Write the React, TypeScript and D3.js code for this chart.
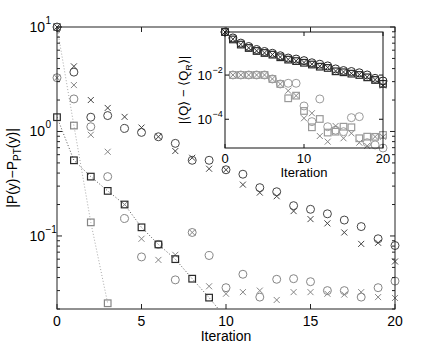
import React from "react";
import * as d3 from "d3";

// iteration numbers
const iteration = [0, 1, 2, 3, 4, 5, 6, 7, 8, 9, 10, 11, 12, 13, 14, 15, 16, 17, 18, 19, 20];

// main panel, |P(y) - P_PT(y)|
const slowCircle = [10, 3.7, 1.37, 1.42, 1.07, 0.98, 0.89, 0.77, 0.53, 0.53, 0.43, 0.39, 0.29, 0.265, 0.195, 0.18, 0.163, 0.142, 0.123, 0.094, 0.081];
const slowCross = [10, 4.2, 2.0, 1.68, 1.38, 1.09, 0.89, 0.65, 0.56, 0.44, 0.43, 0.31, 0.26, 0.24, 0.173, 0.145, 0.132, 0.108, 0.084, 0.086, 0.057];
const fastCircle = [3.27, 2.05, 1.11, 0.37, 0.147, 0.063, 0.083, 0.038, 0.108, 0.065, 0.032, 0.043, 0.026, 0.0385, 0.039, 0.0365, 0.03, 0.03, 0.026, 0.032, 0.037];
const fastCross = [3.27, 2.78, 0.93, 0.64, 0.2, 0.094, 0.059, 0.066, 0.108, 0.033, 0.028, 0.029, 0.03, 0.0244, 0.029, 0.029, 0.028, 0.0275, 0.029, 0.026, 0.0255];
const squareDark = [1.37, 0.53, 0.37, 0.27, 0.2, 0.121, 0.083, 0.06, 0.039, 0.0257, 0.0163];
const squareGray = [10, 1.14, 0.135, 0.0227];

// inset, |<Q> - <Q_R>|
const insetDarkCircle = [0.89, 0.48, 0.28, 0.196, 0.144, 0.117, 0.097, 0.075, 0.059, 0.053, 0.045, 0.036, 0.031, 0.026, 0.019, 0.016, 0.0145, 0.0127, 0.0101, 0.0071, 0.0054];
const insetDarkSquare = [0.89, 0.41, 0.24, 0.168, 0.123, 0.1, 0.084, 0.064, 0.05, 0.043, 0.036, 0.03, 0.024, 0.021, 0.0148, 0.0134, 0.0116, 0.0101, 0.0079, 0.006, 0.004];
const insetDarkCross = [0.89, 0.42, 0.245, 0.17, 0.125, 0.101, 0.085, 0.065, 0.051, 0.044, 0.037, 0.031, 0.025, 0.022, 0.0152, 0.0138, 0.012, 0.0105, 0.0082, 0.0062, 0.0034];
const insetGrayCircle = [0.89, 0.0101, 0.0101, 0.0101, 0.0101, 0.0101, 0.00665, 0.00395, 0.00425, 0.00425, 4.0e-4, 7.8e-5, 8.3e-4, 4.6e-5, 3.2e-5, 2.74e-5, 1.18e-4, 1.31e-4, 8.7e-6, 6.9e-6, 5.0e-6];
const insetGrayCross = [0.89, 0.0101, 0.0101, 0.0101, 0.0101, 0.0101, 0.00665, 0.00395, 0.00196, 0.00117, 1.11e-4, 1.87e-4, 1.75e-5, 9.7e-6, 4.97e-5, 1.38e-5, 2.32e-5, 8.7e-6, 6.2e-6, 1.63e-5, 1.6e-5];
const insetGraySquare = [0.89, 0.0101, 0.0101, 0.0101, 0.0101, 0.0101, 0.00665, 0.00395, 8.9e-4, 1.17e-3, 2.37e-4, 4.33e-5, 1.03e-4, 2.5e-5, 2.74e-5, 4.61e-5, 4.33e-5, 1.38e-5, 1.63e-5, 1.6e-5, 1.95e-5];

// tick labels
const mainXTicks = [0, 5, 10, 15, 20];
const mainYTicks = [0.1, 1, 10];
const mainYExp = ["\u22121", "0", "1"];
const insetXTicks = [0, 10, 20];
const insetYTicks = [1e-2, 1e-4];
const insetYExp = ["\u22122", "\u22124"];

const FONT = "'Liberation Sans', Arial, Helvetica, sans-serif";
const DARK = "#2a2a2a";
const GRAY = "#858585";
const LIGHT = "#9a9a9a";

function Circle({x, y, c}) {
    return <circle cx={x} cy={y} r={4} fill="none" stroke={c} strokeWidth={1}/>;
}

function Cross({x, y, c}) {
    const s = 3;
    return <path d={`M${x - s},${y - s}L${x + s},${y + s}M${x - s},${y + s}L${x + s},${y - s}`} stroke={c} strokeWidth={1} fill="none"/>;
}

function Square({x, y, c}) {
    const s = 3.3;
    return <rect x={x - s} y={y - s} width={2 * s} height={2 * s} fill="none" stroke={c} strokeWidth={1.2}/>;
}

function Markers({values, kind, color, x, y}) {
    const [lo, hi] = y.domain();
    const M = kind === "o" ? Circle : kind === "x" ? Cross : Square;
    return <g>
        {values.map((v, i) => (v >= lo * 0.999 && v <= hi * 1.001)
            ? <M key={i} x={x(iteration[i])} y={y(v)} c={color}/> : null)}
    </g>;
}

export default function App() {
    const width = 436;
    const height = 349;

    // main axes
    const x = d3.scaleLinear().domain([0, 20]).range([57, 395]);
    const y = d3.scaleLog().domain([0.02, 10]).range([309, 27]);

    // inset axes
    const ix = d3.scaleLinear().domain([0, 20]).range([225, 383]);
    const iy = d3.scaleLog().domain([5e-6, 0.89]).range([148, 32]);

    const line = d3.line<number>()
        .x((d, i) => x(iteration[i]))
        .y(d => y(d));

    const minor = y.ticks().filter(t => !mainYTicks.includes(t));

    const [x0, x1] = x.range();
    const [yb, yt] = y.range();

    return (
        <svg width={width} height={height} style={{position: "absolute", left: 0, top: 0, background: "#fff"}}
             fontFamily={FONT}>
            <defs>
                <clipPath id="main-clip">
                    <rect x={x0} y={yt} width={x1 - x0} height={yb - yt}/>
                </clipPath>
            </defs>

            {/* dotted guide lines through the squares */}
            <g clipPath="url(#main-clip)" fill="none">
                <path d={line(squareGray)} stroke="#a8a8a8" strokeWidth={1} strokeDasharray="1,2"/>
                <path d={line(squareDark)} stroke="#555" strokeWidth={1} strokeDasharray="1,2"/>
            </g>

            <Markers values={fastCircle} kind="o" color={GRAY} x={x} y={y}/>
            <Markers values={fastCross} kind="x" color={GRAY} x={x} y={y}/>
            <Markers values={squareGray} kind="s" color={GRAY} x={x} y={y}/>
            <Markers values={slowCircle} kind="o" color={"#444"} x={x} y={y}/>
            <Markers values={slowCross} kind="x" color={"#444"} x={x} y={y}/>
            <Markers values={squareDark} kind="s" color={DARK} x={x} y={y}/>

            {/* main frame */}
            <rect x={x0} y={yt} width={x1 - x0} height={yb - yt} fill="none" stroke="#222" strokeWidth={1}/>
            {mainXTicks.map(t => <g key={t}>
                <line x1={x(t)} x2={x(t)} y1={yb} y2={yb - 5} stroke="#222"/>
                <line x1={x(t)} x2={x(t)} y1={yt} y2={yt + 5} stroke="#222"/>
                <text x={x(t)} y={yb + 17} fontSize={14} textAnchor="middle">{t}</text>
            </g>)}
            {mainYTicks.map((t, i) => <g key={t}>
                <line x1={x0} x2={x0 + 5} y1={y(t)} y2={y(t)} stroke="#222"/>
                <line x1={x1} x2={x1 - 5} y1={y(t)} y2={y(t)} stroke="#222"/>
                <text x={45} y={y(t) + 5} fontSize={14} textAnchor="end">10</text>
                <text x={45.5} y={y(t) - 3} fontSize={10}>{mainYExp[i]}</text>
            </g>)}
            {minor.map(t => <g key={t}>
                <line x1={x0} x2={x0 + 3} y1={y(t)} y2={y(t)} stroke="#222"/>
                <line x1={x1} x2={x1 - 3} y1={y(t)} y2={y(t)} stroke="#222"/>
            </g>)}
            <text x={(x0 + x1) / 2} y={341} fontSize={14} textAnchor="middle">Iteration</text>
            <text transform={`translate(17,${(yt + yb) / 2}) rotate(-90)`} fontSize={14} textAnchor="middle">
                |P(y)−P<tspan fontSize={10} dy={4}>PT</tspan><tspan dy={-4}>(y)|</tspan>
            </text>

            {/* inset */}
            <rect x={ix(0)} y={iy.range()[1]} width={ix(20) - ix(0)} height={iy.range()[0] - iy.range()[1]}
                  fill="#fff" stroke="none"/>
            <Markers values={insetGrayCircle} kind="o" color={LIGHT} x={ix} y={iy}/>
            <Markers values={insetGrayCross} kind="x" color={GRAY} x={ix} y={iy}/>
            <Markers values={insetGraySquare} kind="s" color={LIGHT} x={ix} y={iy}/>
            <Markers values={insetDarkCircle} kind="o" color={DARK} x={ix} y={iy}/>
            <Markers values={insetDarkSquare} kind="s" color={DARK} x={ix} y={iy}/>
            <Markers values={insetDarkCross} kind="x" color={DARK} x={ix} y={iy}/>
            <rect x={ix(0)} y={iy.range()[1]} width={ix(20) - ix(0)} height={iy.range()[0] - iy.range()[1]}
                  fill="none" stroke="#111" strokeWidth={1}/>
            {insetXTicks.map(t => <g key={t}>
                <line x1={ix(t)} x2={ix(t)} y1={iy.range()[0]} y2={iy.range()[0] - 4} stroke="#111"/>
                <line x1={ix(t)} x2={ix(t)} y1={iy.range()[1]} y2={iy.range()[1] + 4} stroke="#111"/>
                <text x={ix(t)} y={163} fontSize={13} textAnchor="middle">{t}</text>
            </g>)}
            {insetYTicks.map((t, i) => <g key={t}>
                <line x1={ix(0)} x2={ix(0) + 4} y1={iy(t)} y2={iy(t)} stroke="#111"/>
                <line x1={ix(20)} x2={ix(20) - 4} y1={iy(t)} y2={iy(t)} stroke="#111"/>
                <text x={212} y={iy(t) + 4.5} fontSize={13} textAnchor="end">10</text>
                <text x={212.5} y={iy(t) - 2.5} fontSize={9}>{insetYExp[i]}</text>
            </g>)}
            <text x={(ix(0) + ix(20)) / 2} y={177} fontSize={13} textAnchor="middle">Iteration</text>
            <text transform={`translate(188,${(iy.range()[0] + iy.range()[1]) / 2}) rotate(-90)`} fontSize={13}
                  textAnchor="middle">
                |⟨Q⟩ − ⟨Q<tspan fontSize={9} dy={3.5}>R</tspan><tspan dy={-3.5}>⟩|</tspan>
            </text>
        </svg>
    );
}
